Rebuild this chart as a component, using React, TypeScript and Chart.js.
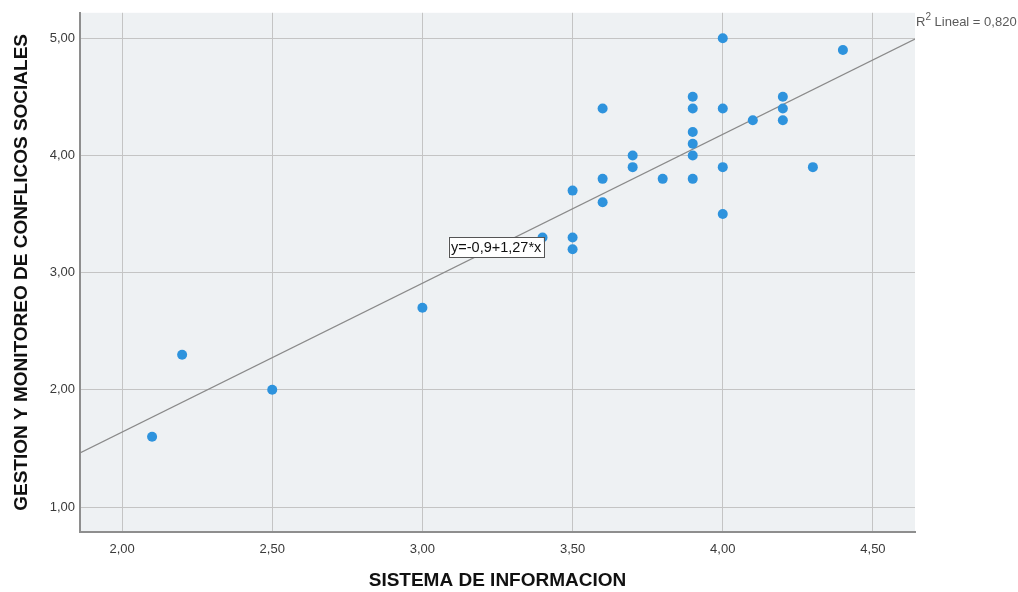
import React, { useEffect, useRef } from "react";
import { Chart, registerables } from "chart.js";

Chart.register(...registerables);

// Observed data (SISTEMA DE INFORMACION vs GESTION Y MONITOREO DE CONFLICOS SOCIALES)
const xValues = [2.1, 2.2, 2.5, 3.0, 3.4, 3.5, 3.5, 3.5, 3.6, 3.6, 3.6, 3.7, 3.7, 3.8, 3.9, 3.9, 3.9, 3.9, 3.9, 3.9, 4.0, 4.0, 4.0, 4.0, 4.1, 4.2, 4.2, 4.2, 4.3, 4.4];
const yValues = [1.6, 2.3, 2.0, 2.7, 3.3, 3.7, 3.3, 3.2, 4.4, 3.8, 3.6, 4.0, 3.9, 3.8, 4.5, 4.4, 4.2, 4.1, 4.0, 3.8, 5.0, 4.4, 3.9, 3.5, 4.3, 4.5, 4.4, 4.3, 3.9, 4.9];

// Linear fit reported in the chart
const intercept = -0.9;
const slope = 1.27;
const r2Text = "0,820";
const equationText = "y=-0,9+1,27*x";

const xMin = 1.86;
const xMax = 4.64;
const yMin = 0.787;
const yMax = 5.217;

const xTitle = "SISTEMA DE INFORMACION";
const yTitle = "GESTION Y MONITOREO DE CONFLICOS SOCIALES";

const FONT = "'Liberation Sans', Arial, sans-serif";

const fmt = (v: number) => v.toFixed(2).replace(".", ",");

export default function App() {
  const ref = useRef<HTMLCanvasElement | null>(null);

  useEffect(() => {
    document.body.style.margin = "0";
    const canvas = ref.current;
    if (!canvas) return;

    const points = xValues.map((x, i) => ({ x, y: yValues[i] }));
    const fitLine = [
      { x: xMin, y: intercept + slope * xMin },
      { x: xMax, y: intercept + slope * xMax },
    ];

    const bgPlugin = {
      id: "plotBg",
      beforeDraw(chart: any) {
        const { ctx, chartArea } = chart;
        ctx.save();
        ctx.fillStyle = "#ffffff";
        ctx.fillRect(0, 0, chart.width, chart.height);
        ctx.fillStyle = "#EEF1F3";
        ctx.fillRect(chartArea.left, chartArea.top, chartArea.right - chartArea.left, chartArea.bottom - chartArea.top);
        ctx.restore();
      },
    };

    const annotPlugin = {
      id: "annot",
      afterDraw(chart: any) {
        const { ctx, chartArea } = chart;
        const xs = chart.scales.x;
        const ys = chart.scales.y;
        ctx.save();
        // R² label
        ctx.fillStyle = "#5a5a5a";
        ctx.textBaseline = "middle";
        ctx.textAlign = "left";
        let px = chartArea.right + 1;
        const py = 22;
        ctx.font = `13px ${FONT}`;
        ctx.fillText("R", px, py);
        px += ctx.measureText("R").width;
        ctx.font = `10px ${FONT}`;
        ctx.fillText("2", px, py - 5);
        px += ctx.measureText("2").width;
        ctx.font = `13px ${FONT}`;
        ctx.fillText(" Lineal = " + r2Text, px, py);

        // Equation box
        ctx.font = `14.5px ${FONT}`;
        const w = ctx.measureText(equationText).width;
        const bx = xs.getPixelForValue(3.087);
        const by = ys.getPixelForValue(3.215);
        const bw = w + 5;
        const bh = 20;
        ctx.fillStyle = "#ffffff";
        ctx.fillRect(bx, by - bh / 2, bw, bh);
        ctx.strokeStyle = "#555555";
        ctx.lineWidth = 1;
        ctx.strokeRect(Math.round(bx) + 0.5, Math.round(by - bh / 2) + 0.5, Math.round(bw), bh);
        ctx.fillStyle = "#111111";
        ctx.textAlign = "left";
        ctx.fillText(equationText, bx + 2.5, by + 1);
        ctx.restore();
      },
    };

    const chart = new Chart(canvas, {
      type: "scatter",
      data: {
        datasets: [
          {
            type: "line",
            data: fitLine,
            borderColor: "#8a8a8a",
            borderWidth: 1.2,
            pointRadius: 0,
            fill: false,
            order: 2,
          } as any,
          {
            data: points,
            backgroundColor: "#2E93DD",
            borderColor: "#2E93DD",
            borderWidth: 0,
            pointRadius: 5,
            pointHoverRadius: 5,
            order: 1,
          },
        ],
      },
      options: {
        responsive: false,
        animation: false,
        devicePixelRatio: 1,
        layout: { padding: { top: 11, right: 103, bottom: 0, left: 0 } },
        plugins: {
          legend: { display: false },
          tooltip: { enabled: false },
        },
        scales: {
          x: {
            type: "linear",
            min: xMin,
            max: xMax,
            afterFit(scale: any) {
              scale.height = 60;
            },
            ticks: {
              stepSize: 0.5,
              includeBounds: false,
              padding: 10,
              color: "#3a3a3a",
              font: { family: FONT, size: 13 },
              callback: (v: any) => fmt(Number(v)),
            },
            grid: { color: "#c4c4c4", lineWidth: 1, drawTicks: false, tickLength: 0 },
            border: { display: true, color: "#8e8e8e", width: 2 },
            title: {
              display: true,
              text: xTitle,
              color: "#111111",
              font: { family: FONT, size: 19, weight: "bold" },
              padding: { top: 0, bottom: 0 },
            },
          },
          y: {
            type: "linear",
            min: yMin,
            max: yMax,
            afterFit(scale: any) {
              scale.width = 80;
            },
            ticks: {
              stepSize: 1,
              includeBounds: false,
              padding: 5,
              color: "#3a3a3a",
              font: { family: FONT, size: 13 },
              callback: (v: any) => fmt(Number(v)),
            },
            grid: { color: "#c4c4c4", lineWidth: 1, drawTicks: false, tickLength: 0 },
            border: { display: true, color: "#8e8e8e", width: 2 },
            title: {
              display: true,
              text: yTitle,
              color: "#111111",
              font: { family: FONT, size: 19, weight: "bold" },
              padding: { top: 10, bottom: 0 },
            },
          },
        },
      },
      plugins: [bgPlugin, annotPlugin],
    });

    return () => chart.destroy();
  }, []);

  return (
    <div style={{ width: 1018, height: 592 }}>
      <canvas ref={ref} width={1018} height={592} style={{ display: "block" }} />
    </div>
  );
}
